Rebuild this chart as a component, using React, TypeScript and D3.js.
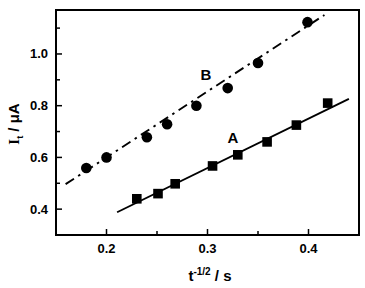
import React from "react";
import * as d3 from "d3";

const seriesAx = [0.23, 0.251, 0.268, 0.305, 0.33, 0.359, 0.388, 0.419];
const seriesAy = [0.44, 0.46, 0.498, 0.567, 0.61, 0.66, 0.725, 0.81];
const seriesBx = [0.18, 0.2, 0.24, 0.26, 0.289, 0.32, 0.35, 0.399];
const seriesBy = [0.559, 0.6, 0.678, 0.728, 0.8, 0.868, 0.965, 1.123];
const fitA = [[0.2105, 0.388], [0.44, 0.826]];
const fitB = [[0.1595, 0.4966], [0.4158, 1.1508]];
const xTicks = [0.2, 0.3, 0.4];
const xMinor = [0.25, 0.35];
const yTicks = [0.4, 0.6, 0.8, 1.0];
const yMinor = [0.5, 0.7, 0.9, 1.1];

export default function App() {
  const W = 365, H = 288;
  const L = 56, R = 359, T = 10, B = 235;
  const x = d3.scaleLinear().domain([0.15, 0.45]).range([L, R]);
  const y = d3.scaleLinear().domain([0.3, 1.17]).range([B, T]);
  const line = d3.line<number[]>().x(d => x(d[0])).y(d => y(d[1]));
  const font = "Arial, 'Liberation Sans', sans-serif";
  return (
    <svg width={W} height={H} style={{ position: "absolute", left: 0, top: 0 }} fontFamily={font}>
      <rect x={0} y={0} width={W} height={H} fill="#fff" />
      {xTicks.map(t => (
        <g key={"xt" + t}>
          <line x1={x(t)} x2={x(t)} y1={B} y2={B - 6} stroke="#000" strokeWidth={1.5} />
          <text x={x(t)} y={253} textAnchor="middle" fontSize={13} fontWeight="bold">{t.toFixed(1)}</text>
        </g>
      ))}
      {xMinor.map(t => (
        <line key={"xm" + t} x1={x(t)} x2={x(t)} y1={B} y2={B - 4} stroke="#000" strokeWidth={1.5} />
      ))}
      {yTicks.map(t => (
        <g key={"yt" + t}>
          <line x1={L} x2={L + 6} y1={y(t)} y2={y(t)} stroke="#000" strokeWidth={1.5} />
          <text x={48} y={y(t) + 4.5} textAnchor="end" fontSize={13} fontWeight="bold">{t.toFixed(1)}</text>
        </g>
      ))}
      {yMinor.map(t => (
        <line key={"ym" + t} x1={L} x2={L + 4} y1={y(t)} y2={y(t)} stroke="#000" strokeWidth={1.5} />
      ))}
      <path d={line(fitA) || ""} stroke="#000" strokeWidth={1.9} fill="none" />
      <path d={line(fitB) || ""} stroke="#000" strokeWidth={1.9} fill="none" strokeDasharray="10,5,2.5,5" />
      {seriesAx.map((v, i) => (
        <rect key={"a" + i} x={x(v) - 4.8} y={y(seriesAy[i]) - 4.8} width={9.6} height={9.6} fill="#000" />
      ))}
      {seriesBx.map((v, i) => (
        <circle key={"b" + i} cx={x(v)} cy={y(seriesBy[i])} r={5.3} fill="#000" />
      ))}
      <text x={206} y={80} textAnchor="middle" fontSize={15} fontWeight="bold">B</text>
      <text x={233} y={143} textAnchor="middle" fontSize={15} fontWeight="bold">A</text>
      <rect x={L} y={T} width={R - L} height={B - T} fill="none" stroke="#000" strokeWidth={2} />
      <text x={210} y={281} textAnchor="middle" fontSize={15} fontWeight="bold">
        t<tspan dy={-6} fontSize={10}>-1/2</tspan><tspan dy={6}> / s</tspan>
      </text>
      <text transform="translate(19,124) rotate(-90)" textAnchor="middle" fontSize={15} fontWeight="bold">
        <tspan fontFamily="'Liberation Serif', serif">I</tspan><tspan dy={4} fontSize={9}>t</tspan><tspan dy={-4}> / μA</tspan>
      </text>
    </svg>
  );
}
